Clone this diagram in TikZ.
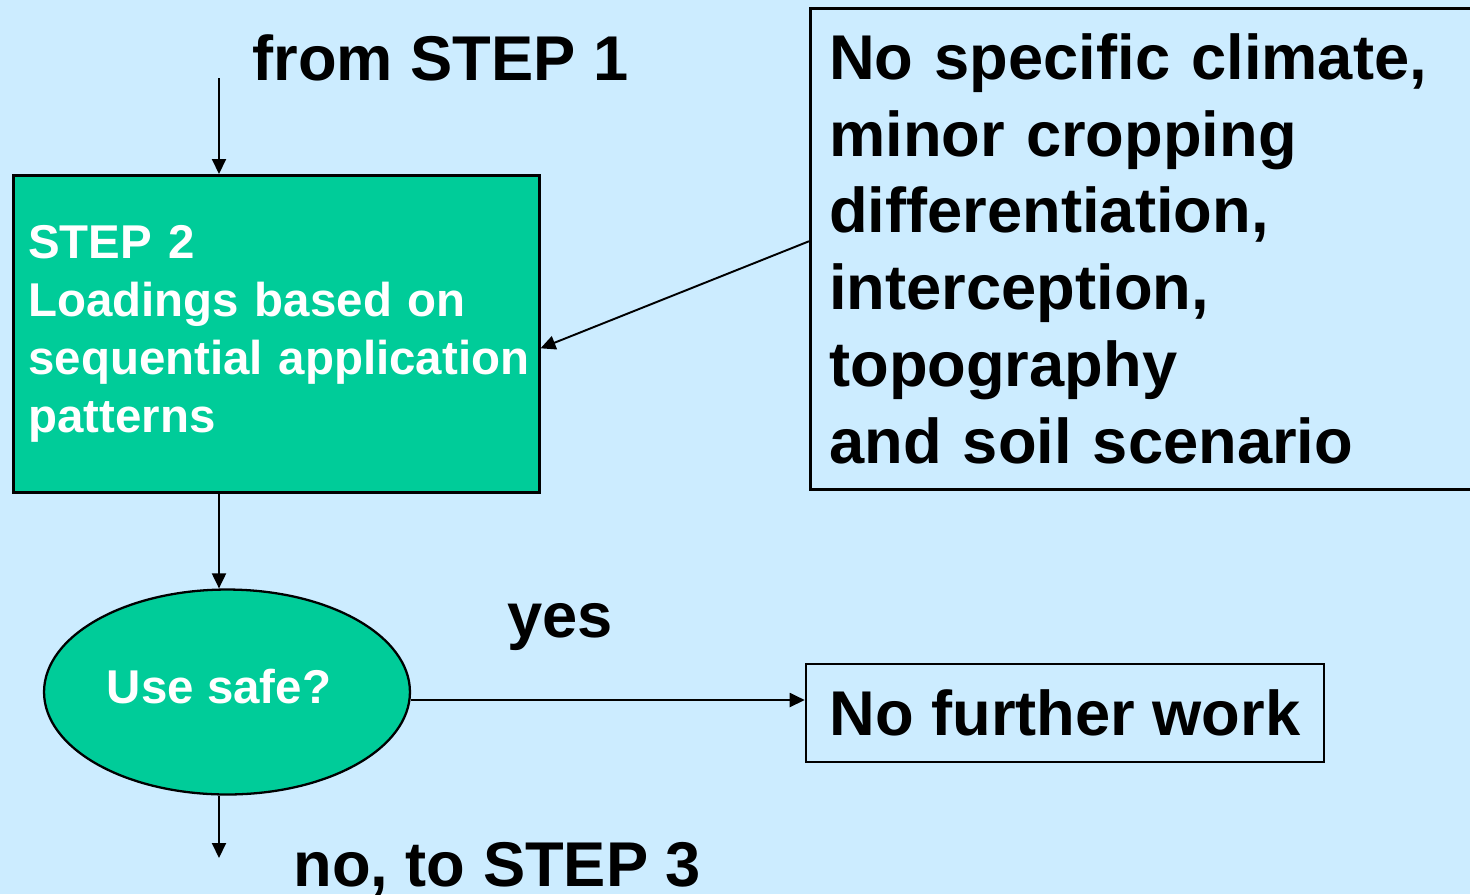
\documentclass[tikz,border=0pt]{standalone}
\usepackage{fontspec}
\setmainfont{Liberation Sans}
\usetikzlibrary{arrows.meta,shapes.geometric}
\definecolor{paleblue}{HTML}{CCECFF}
\definecolor{seagreen}{HTML}{00CC99}
\begin{document}
\begin{tikzpicture}[x=0.02cm,y=-0.02cm,
  big/.style={font=\fontsize{36}{43.7}\selectfont\bfseries},
  small/.style={font=\fontsize{27}{33}\selectfont\bfseries},
  arr/.style={line width=1.1pt,-{Triangle[length=0.3cm,width=0.28cm]}},
  frame/.style={draw=black,line width=1.5pt},
  label/.style={big,anchor=base west,inner sep=0pt}]
% page and background
\fill[paleblue] (0,0) rectangle (1470,894);
\useasboundingbox (0,0) rectangle (1470,894);
\clip (0,0) rectangle (1470,894);

% step 2 box
\node (step2) [small, text=white, fill=seagreen, frame, anchor=north west,
  text width=9.92cm, inner xsep=0.3cm, inner ysep=0pt, minimum height=6.34cm,
  align=left] at (12,174)
  {STEP 2\\Loadings based on\\\mbox{sequential application}\\patterns};

% assumptions box (runs past the right edge)
\node (factors) [big, frame, anchor=north west, text width=12.98cm,
  inner xsep=0.38cm, inner ysep=0pt, minimum height=9.62cm, align=left]
  at (809,7)
  {No specific climate,\\minor cropping\\differentiation,\\interception,\\topography\\and soil scenario};

% decision
\node (usesafe) [ellipse, small, text=white, fill=seagreen, draw=black,
  line width=1.3pt, minimum width=7.32cm, minimum height=4.1cm, inner sep=0pt,
  text depth=0.24cm]
  at (227,692) {Use safe?\hspace*{0.32cm}};

% outcome box
\node (nofurther) [big, frame, minimum width=10.36cm, minimum height=1.96cm,
  inner sep=0pt] at (1065,713) {No further work};

% free labels
\node (fromlbl) [label] at (252,80) {from STEP 1};
\node (yeslbl) [label] at (507,637) {yes};
\node (nolbl) [label] at (293,886) {no, to STEP 3};

% connectors
\coordinate (in1) at (219,78);
\coordinate (out3) at (219,858);
\draw[arr] (in1) -- (in1 |- step2.north);
\draw[arr] (step2.south -| in1) -- (usesafe.north -| in1);
\draw[arr] (usesafe.south -| in1) -- (out3);
\draw[arr] ([yshift=-0.16cm]usesafe.east) -- ([yshift=-0.16cm]usesafe.east -| nofurther.west);
\draw[arr] ([yshift=0.15cm]factors.west) -- ([yshift=-0.29cm]step2.east);
\end{tikzpicture}
\end{document}
